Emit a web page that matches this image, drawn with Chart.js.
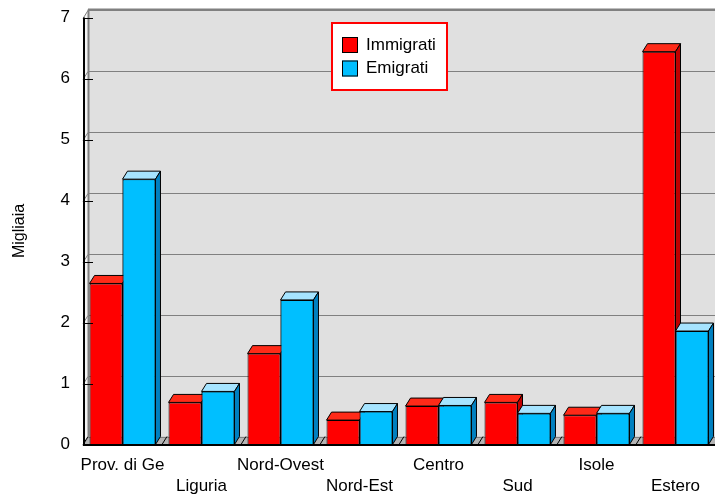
<!DOCTYPE html>
<html>
<head>
<meta charset="utf-8">
<script src="https://cdn.jsdelivr.net/npm/chart.js@4/dist/chart.umd.min.js"></script>
<style>
  body { margin: 0; background: #fff; }
</style>
</head>
<body>
<canvas id="barChart" width="715" height="497"></canvas>
<script>
// dati
const categorie = ['Prov. di Ge', 'Liguria', 'Nord-Ovest', 'Nord-Est', 'Centro', 'Sud', 'Isole', 'Estero'];
const immigrati = [2.64, 0.69, 1.49, 0.40, 0.63, 0.69, 0.48, 6.44];
const emigrati = [4.35, 0.87, 2.37, 0.54, 0.64, 0.51, 0.51, 1.86];
const yMin = 0;
const yMax = 7;
const yStep = 1;

// profondita' finto 3D
const DX = 5;
const DY = 8;
const FONT = 'Liberation Sans, Arial, sans-serif';

const faceColors = [
    { top: '#ff2a18', side: '#c00000' },
    { top: '#a6e4ff', side: '#0080c0' }
];

function poly(ctx, pts, fill, stroke) {
    ctx.beginPath();
    ctx.moveTo(pts[0][0], pts[0][1]);
    for (let i = 1; i < pts.length; i++) ctx.lineTo(pts[i][0], pts[i][1]);
    ctx.closePath();
    if (fill) { ctx.fillStyle = fill; ctx.fill(); }
    if (stroke) { ctx.strokeStyle = stroke; ctx.lineWidth = 1; ctx.stroke(); }
}

function drawFaces(ctx, bar, col) {
    const l = bar.x - bar.width / 2;
    const r = bar.x + bar.width / 2;
    const t = bar.y;
    const b = bar.base;
    poly(ctx, [[l, t], [l + DX, t - DY], [r + DX, t - DY], [r, t]], col.top, '#000');
    poly(ctx, [[r, t], [r + DX, t - DY], [r + DX, b - DY], [r, b]], col.side, '#000');
}

const box3d = {
    id: 'box3d',
    beforeDatasetsDraw(chart) {
        const ctx = chart.ctx;
        const { left, right, top, bottom } = chart.chartArea;
        const y = chart.scales.y;
        ctx.save();
        // parete di fondo
        ctx.fillStyle = '#e0e0e0';
        ctx.fillRect(left + DX, top - DY, right - left, bottom - top);
        // parete sinistra
        poly(ctx, [[left, top], [left + DX, top - DY], [left + DX, bottom - DY], [left, bottom]], '#f4f4f4');
        // pavimento
        poly(ctx, [[left, bottom], [left + DX, bottom - DY], [right + DX, bottom - DY], [right, bottom]], '#b4b4b4');
        // griglia
        ctx.lineWidth = 1;
        ctx.strokeStyle = '#808080';
        y.ticks.forEach(t => {
            const py = Math.round(y.getPixelForValue(t.value)) + 0.5;
            ctx.beginPath();
            ctx.moveTo(left, py);
            ctx.lineTo(left + DX, py - DY);
            ctx.lineTo(right + DX, py - DY);
            ctx.stroke();
        });
        // bordo superiore
        ctx.lineWidth = 2;
        ctx.beginPath();
        ctx.moveTo(left + DX, top - DY);
        ctx.lineTo(right + DX, top - DY);
        ctx.stroke();
        ctx.beginPath();
        ctx.moveTo(left + DX + 0.5, top - DY);
        ctx.lineTo(left + DX + 0.5, bottom - DY);
        ctx.stroke();
        // divisioni sul pavimento
        ctx.lineWidth = 1;
        ctx.strokeStyle = '#000';
        const step = (right - left) / categorie.length;
        for (let i = 0; i <= categorie.length; i++) {
            const px = left + i * step;
            ctx.beginPath();
            ctx.moveTo(px, bottom);
            ctx.lineTo(px + DX, bottom - DY);
            ctx.stroke();
        }
        ctx.restore();
    },
    afterDatasetsDraw(chart) {
        const ctx = chart.ctx;
        const red = chart.getDatasetMeta(0);
        const blue = chart.getDatasetMeta(1);
        ctx.save();
        // prima le facce rosse, poi il blu sopra
        red.data.forEach(bar => drawFaces(ctx, bar, faceColors[0]));
        blue.data.forEach(bar => {
            bar.draw(ctx);
            drawFaces(ctx, bar, faceColors[1]);
        });
        ctx.restore();
    },
    afterDraw(chart) {
        const ctx = chart.ctx;
        const { left, right, top, bottom } = chart.chartArea;
        const y = chart.scales.y;
        ctx.save();
        ctx.strokeStyle = '#000';
        // asse verticale
        ctx.lineWidth = 2;
        ctx.beginPath();
        ctx.moveTo(left + 1, top);
        ctx.lineTo(left + 1, bottom + 1);
        ctx.stroke();
        // linea di base
        ctx.beginPath();
        ctx.moveTo(left, bottom + 0.5);
        ctx.lineTo(right, bottom + 0.5);
        ctx.stroke();
        // tacche
        ctx.lineWidth = 1;
        y.ticks.forEach(t => {
            const py = Math.round(y.getPixelForValue(t.value)) + 0.5;
            ctx.beginPath();
            ctx.moveTo(left, py);
            ctx.lineTo(left + 10, py);
            ctx.stroke();
        });

        // legenda
        const lx = 332, ly = 23, lw = 115, lh = 67;
        ctx.fillStyle = '#fff';
        ctx.fillRect(lx, ly, lw, lh);
        ctx.strokeStyle = '#ff0000';
        ctx.lineWidth = 2;
        ctx.strokeRect(lx, ly, lw, lh);
        ctx.font = '17px ' + FONT;
        ctx.textBaseline = 'middle';
        chart.data.datasets.forEach((ds, i) => {
            const sy = 37 + i * 23.5;
            ctx.fillStyle = ds.backgroundColor;
            ctx.fillRect(342, sy, 16, 16);
            ctx.strokeStyle = '#000';
            ctx.lineWidth = 1;
            ctx.strokeRect(342.5, sy + 0.5, 15, 15);
            ctx.fillStyle = '#000';
            ctx.fillText(ds.label, 366, sy + 8);
        });
        ctx.restore();
    }
};

const ctx = document.getElementById('barChart');

new Chart(ctx, {
    type: 'bar',
    data: {
        labels: categorie.map((c, i) => i % 2 ? ['', c] : [c]),
        datasets: [{
            label: 'Immigrati',
            data: immigrati,
            backgroundColor: '#ff0000',
            borderColor: '#000',
            borderWidth: 1
        }, {
            label: 'Emigrati',
            data: emigrati,
            backgroundColor: '#00bfff',
            borderColor: '#000',
            borderWidth: 1
        }]
    },
    options: {
        responsive: false,
        animation: false,
        layout: {
            padding: { top: 17.5, right: 0, left: 0, bottom: 0 }
        },
        plugins: {
            legend: { display: false },
            tooltip: { enabled: false }
        },
        datasets: {
            bar: {
                categoryPercentage: 0.835,
                barPercentage: 1
            }
        },
        scales: {
            x: {
                grid: { display: false, drawTicks: false },
                border: { display: false },
                ticks: {
                    color: '#000',
                    font: { family: FONT, size: 17, lineHeight: 1.25 },
                    padding: 10,
                    maxRotation: 0,
                    autoSkip: false
                },
                afterFit: s => {
                    s.height = 52.5;
                    s.paddingLeft = 0;
                    s.paddingRight = 0;
                }
            },
            y: {
                min: yMin,
                max: yMax,
                grid: { display: false, drawTicks: false },
                border: { display: false },
                ticks: {
                    stepSize: yStep,
                    color: '#000',
                    font: { family: FONT, size: 17 },
                    padding: 13
                },
                title: {
                    display: true,
                    text: 'Migliaia',
                    color: '#000',
                    font: { family: FONT, size: 16 },
                    padding: { top: 10, bottom: 0 }
                },
                afterFit: s => {
                    s.width = 83;
                    s.paddingTop = 0;
                    s.paddingBottom = 0;
                }
            }
        }
    },
    plugins: [box3d]
});
</script>
</body>
</html>
